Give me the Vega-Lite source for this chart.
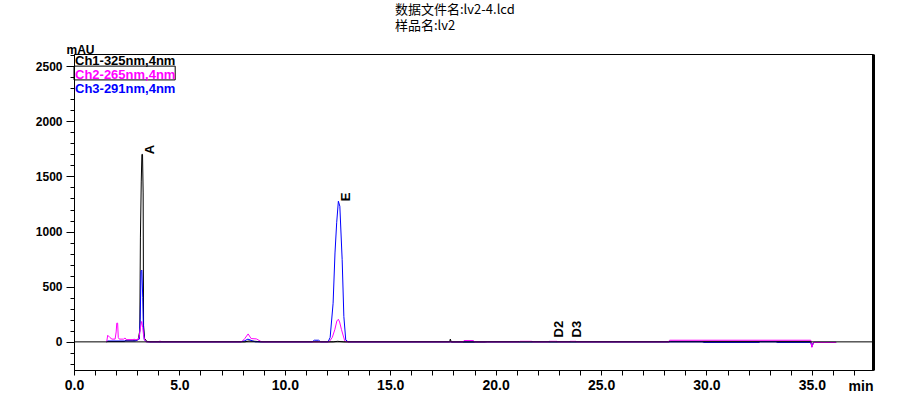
{
  "$schema": "https://vega.github.io/schema/vega-lite/v6.json",
  "width": 799,
  "height": 316,
  "autosize": {"type": "none"},
  "padding": {"left": 74, "top": 54, "right": 32, "bottom": 23},
  "background": "white",
  "config": {
    "view": {"stroke": "black", "strokeWidth": 1},
    "axis": {
      "grid": false,
      "domainColor": "black",
      "tickColor": "black",
      "labelColor": "black",
      "titleColor": "black",
      "labelOverlap": false,
      "labelFlush": false,
      "labelFont": "Liberation Sans Narrow, Liberation Sans, Arial",
      "labelFontWeight": "bold",
      "titleFont": "Liberation Sans Narrow, Liberation Sans, Arial",
      "titleFontWeight": "bold"
    }
  },
  "title": {
    "text": ["数据文件名:lv2-4.lcd", "样品名:lv2"],
    "anchor": "start",
    "frame": "group",
    "dx": 321,
    "offset": 10,
    "fontSize": 13,
    "font": "Noto Sans CJK SC",
    "fontWeight": "normal",
    "lineHeight": 16,
    "baseline": "top",
    "color": "black"
  },
  "layer": [
    {
      "data": {
        "values": [
          {"ch": "Ch1-325nm,4nm", "t": 1.55, "v": 0},
          {"ch": "Ch1-325nm,4nm", "t": 1.6, "v": 3},
          {"ch": "Ch1-325nm,4nm", "t": 2.4, "v": 3},
          {"ch": "Ch1-325nm,4nm", "t": 2.45, "v": 15},
          {"ch": "Ch1-325nm,4nm", "t": 3.0, "v": 15},
          {"ch": "Ch1-325nm,4nm", "t": 3.05, "v": 30},
          {"ch": "Ch1-325nm,4nm", "t": 3.12, "v": 100},
          {"ch": "Ch1-325nm,4nm", "t": 3.15, "v": 950},
          {"ch": "Ch1-325nm,4nm", "t": 3.19, "v": 1450},
          {"ch": "Ch1-325nm,4nm", "t": 3.22, "v": 1700},
          {"ch": "Ch1-325nm,4nm", "t": 3.25, "v": 1700},
          {"ch": "Ch1-325nm,4nm", "t": 3.28, "v": 1350},
          {"ch": "Ch1-325nm,4nm", "t": 3.3, "v": 150},
          {"ch": "Ch1-325nm,4nm", "t": 3.35, "v": 30},
          {"ch": "Ch1-325nm,4nm", "t": 3.45, "v": 5},
          {"ch": "Ch1-325nm,4nm", "t": 3.6, "v": 0},
          {"ch": "Ch1-325nm,4nm", "t": 8.1, "v": 0},
          {"ch": "Ch1-325nm,4nm", "t": 8.3, "v": 8},
          {"ch": "Ch1-325nm,4nm", "t": 8.6, "v": 5},
          {"ch": "Ch1-325nm,4nm", "t": 8.9, "v": 0},
          {"ch": "Ch1-325nm,4nm", "t": 12.3, "v": 0},
          {"ch": "Ch1-325nm,4nm", "t": 12.5, "v": 5},
          {"ch": "Ch1-325nm,4nm", "t": 12.8, "v": 0},
          {"ch": "Ch1-325nm,4nm", "t": 17.82, "v": 0},
          {"ch": "Ch1-325nm,4nm", "t": 17.85, "v": 25},
          {"ch": "Ch1-325nm,4nm", "t": 17.9, "v": -2},
          {"ch": "Ch1-325nm,4nm", "t": 19.5, "v": -2},
          {"ch": "Ch1-325nm,4nm", "t": 19.6, "v": 0},
          {"ch": "Ch1-325nm,4nm", "t": 28.2, "v": 0},
          {"ch": "Ch1-325nm,4nm", "t": 28.3, "v": 5},
          {"ch": "Ch1-325nm,4nm", "t": 34.95, "v": 5},
          {"ch": "Ch1-325nm,4nm", "t": 35.0, "v": -40},
          {"ch": "Ch1-325nm,4nm", "t": 35.05, "v": -20},
          {"ch": "Ch1-325nm,4nm", "t": 35.1, "v": -5},
          {"ch": "Ch1-325nm,4nm", "t": 36.15, "v": -5},

          {"ch": "Ch3-291nm,4nm", "t": 1.55, "v": 0},
          {"ch": "Ch3-291nm,4nm", "t": 1.6, "v": 8},
          {"ch": "Ch3-291nm,4nm", "t": 2.9, "v": 8},
          {"ch": "Ch3-291nm,4nm", "t": 3.1, "v": 25},
          {"ch": "Ch3-291nm,4nm", "t": 3.14, "v": 200},
          {"ch": "Ch3-291nm,4nm", "t": 3.18, "v": 640},
          {"ch": "Ch3-291nm,4nm", "t": 3.22, "v": 650},
          {"ch": "Ch3-291nm,4nm", "t": 3.26, "v": 400},
          {"ch": "Ch3-291nm,4nm", "t": 3.29, "v": 150},
          {"ch": "Ch3-291nm,4nm", "t": 3.33, "v": 20},
          {"ch": "Ch3-291nm,4nm", "t": 3.45, "v": 0},
          {"ch": "Ch3-291nm,4nm", "t": 7.9, "v": 0},
          {"ch": "Ch3-291nm,4nm", "t": 8.1, "v": 10},
          {"ch": "Ch3-291nm,4nm", "t": 8.25, "v": 25},
          {"ch": "Ch3-291nm,4nm", "t": 8.45, "v": 10},
          {"ch": "Ch3-291nm,4nm", "t": 8.6, "v": 0},
          {"ch": "Ch3-291nm,4nm", "t": 11.3, "v": 0},
          {"ch": "Ch3-291nm,4nm", "t": 11.4, "v": 15},
          {"ch": "Ch3-291nm,4nm", "t": 11.6, "v": 15},
          {"ch": "Ch3-291nm,4nm", "t": 11.7, "v": 0},
          {"ch": "Ch3-291nm,4nm", "t": 12.05, "v": 0},
          {"ch": "Ch3-291nm,4nm", "t": 12.15, "v": 40},
          {"ch": "Ch3-291nm,4nm", "t": 12.29, "v": 350},
          {"ch": "Ch3-291nm,4nm", "t": 12.38, "v": 806},
          {"ch": "Ch3-291nm,4nm", "t": 12.46, "v": 1080},
          {"ch": "Ch3-291nm,4nm", "t": 12.54, "v": 1275},
          {"ch": "Ch3-291nm,4nm", "t": 12.61, "v": 1230},
          {"ch": "Ch3-291nm,4nm", "t": 12.72, "v": 745},
          {"ch": "Ch3-291nm,4nm", "t": 12.8, "v": 230},
          {"ch": "Ch3-291nm,4nm", "t": 12.89, "v": 18},
          {"ch": "Ch3-291nm,4nm", "t": 13.0, "v": 0},
          {"ch": "Ch3-291nm,4nm", "t": 29.8, "v": 0},
          {"ch": "Ch3-291nm,4nm", "t": 29.85, "v": -5},
          {"ch": "Ch3-291nm,4nm", "t": 32.5, "v": -5},
          {"ch": "Ch3-291nm,4nm", "t": 32.55, "v": 0},
          {"ch": "Ch3-291nm,4nm", "t": 33.3, "v": 0},
          {"ch": "Ch3-291nm,4nm", "t": 33.35, "v": -5},
          {"ch": "Ch3-291nm,4nm", "t": 34.95, "v": -5},
          {"ch": "Ch3-291nm,4nm", "t": 35.0, "v": -45},
          {"ch": "Ch3-291nm,4nm", "t": 35.05, "v": -15},
          {"ch": "Ch3-291nm,4nm", "t": 35.1, "v": -5},
          {"ch": "Ch3-291nm,4nm", "t": 36.15, "v": -5},

          {"ch": "Ch2-265nm,4nm", "t": 1.55, "v": 0},
          {"ch": "Ch2-265nm,4nm", "t": 1.6, "v": 60},
          {"ch": "Ch2-265nm,4nm", "t": 1.7, "v": 40},
          {"ch": "Ch2-265nm,4nm", "t": 1.8, "v": 25},
          {"ch": "Ch2-265nm,4nm", "t": 1.95, "v": 25},
          {"ch": "Ch2-265nm,4nm", "t": 2.0, "v": 90},
          {"ch": "Ch2-265nm,4nm", "t": 2.03, "v": 170},
          {"ch": "Ch2-265nm,4nm", "t": 2.07, "v": 170},
          {"ch": "Ch2-265nm,4nm", "t": 2.1, "v": 40},
          {"ch": "Ch2-265nm,4nm", "t": 2.15, "v": 25},
          {"ch": "Ch2-265nm,4nm", "t": 2.35, "v": 25},
          {"ch": "Ch2-265nm,4nm", "t": 2.42, "v": 35},
          {"ch": "Ch2-265nm,4nm", "t": 2.5, "v": 20},
          {"ch": "Ch2-265nm,4nm", "t": 2.8, "v": 20},
          {"ch": "Ch2-265nm,4nm", "t": 2.85, "v": 25},
          {"ch": "Ch2-265nm,4nm", "t": 2.9, "v": 20},
          {"ch": "Ch2-265nm,4nm", "t": 3.05, "v": 20},
          {"ch": "Ch2-265nm,4nm", "t": 3.1, "v": 60},
          {"ch": "Ch2-265nm,4nm", "t": 3.17, "v": 150},
          {"ch": "Ch2-265nm,4nm", "t": 3.21, "v": 185},
          {"ch": "Ch2-265nm,4nm", "t": 3.26, "v": 130},
          {"ch": "Ch2-265nm,4nm", "t": 3.3, "v": 60},
          {"ch": "Ch2-265nm,4nm", "t": 3.35, "v": 15},
          {"ch": "Ch2-265nm,4nm", "t": 3.45, "v": 0},
          {"ch": "Ch2-265nm,4nm", "t": 4.05, "v": 0},
          {"ch": "Ch2-265nm,4nm", "t": 4.08, "v": 10},
          {"ch": "Ch2-265nm,4nm", "t": 4.1, "v": 0},
          {"ch": "Ch2-265nm,4nm", "t": 7.95, "v": 0},
          {"ch": "Ch2-265nm,4nm", "t": 8.1, "v": 30},
          {"ch": "Ch2-265nm,4nm", "t": 8.26, "v": 72},
          {"ch": "Ch2-265nm,4nm", "t": 8.4, "v": 30},
          {"ch": "Ch2-265nm,4nm", "t": 8.65, "v": 27},
          {"ch": "Ch2-265nm,4nm", "t": 8.9, "v": 0},
          {"ch": "Ch2-265nm,4nm", "t": 12.1, "v": 0},
          {"ch": "Ch2-265nm,4nm", "t": 12.25, "v": 40},
          {"ch": "Ch2-265nm,4nm", "t": 12.37, "v": 110},
          {"ch": "Ch2-265nm,4nm", "t": 12.47, "v": 190},
          {"ch": "Ch2-265nm,4nm", "t": 12.54, "v": 205},
          {"ch": "Ch2-265nm,4nm", "t": 12.6, "v": 180},
          {"ch": "Ch2-265nm,4nm", "t": 12.69, "v": 110},
          {"ch": "Ch2-265nm,4nm", "t": 12.84, "v": 10},
          {"ch": "Ch2-265nm,4nm", "t": 12.95, "v": 0},
          {"ch": "Ch2-265nm,4nm", "t": 18.45, "v": 0},
          {"ch": "Ch2-265nm,4nm", "t": 18.5, "v": 12},
          {"ch": "Ch2-265nm,4nm", "t": 18.95, "v": 12},
          {"ch": "Ch2-265nm,4nm", "t": 19.0, "v": 0},
          {"ch": "Ch2-265nm,4nm", "t": 21.1, "v": 0},
          {"ch": "Ch2-265nm,4nm", "t": 21.15, "v": 5},
          {"ch": "Ch2-265nm,4nm", "t": 21.7, "v": 5},
          {"ch": "Ch2-265nm,4nm", "t": 21.75, "v": 0},
          {"ch": "Ch2-265nm,4nm", "t": 22.5, "v": 0},
          {"ch": "Ch2-265nm,4nm", "t": 22.55, "v": 5},
          {"ch": "Ch2-265nm,4nm", "t": 22.9, "v": 5},
          {"ch": "Ch2-265nm,4nm", "t": 22.95, "v": 0},
          {"ch": "Ch2-265nm,4nm", "t": 23.5, "v": 0},
          {"ch": "Ch2-265nm,4nm", "t": 23.55, "v": 5},
          {"ch": "Ch2-265nm,4nm", "t": 23.8, "v": 5},
          {"ch": "Ch2-265nm,4nm", "t": 23.85, "v": 0},
          {"ch": "Ch2-265nm,4nm", "t": 28.2, "v": 0},
          {"ch": "Ch2-265nm,4nm", "t": 28.25, "v": 15},
          {"ch": "Ch2-265nm,4nm", "t": 34.95, "v": 15},
          {"ch": "Ch2-265nm,4nm", "t": 35.0, "v": -50},
          {"ch": "Ch2-265nm,4nm", "t": 35.05, "v": -20},
          {"ch": "Ch2-265nm,4nm", "t": 35.1, "v": -5},
          {"ch": "Ch2-265nm,4nm", "t": 36.15, "v": -5}
        ]
      },
      "mark": {"type": "line", "strokeWidth": 1, "interpolate": "linear"},
      "encoding": {
        "x": {
          "field": "t",
          "type": "quantitative",
          "scale": {"domain": [0, 37.9], "nice": false, "zero": false},
          "axis": {
            "values": [0, 5, 10, 15, 20, 25, 30, 35],
            "format": ".1f",
            "tickSize": 5,
            "labelPadding": 3,
            "labelFontSize": 14,
            "labelOverlap": false,
            "title": "min",
            "titleAnchor": "end",
            "titleAlign": "right",
            "titleX": 799,
            "titleY": 20,
            "titleBaseline": "alphabetic",
            "titleFontSize": 14
          }
        },
        "y": {
          "field": "v",
          "type": "quantitative",
          "scale": {"domain": [-255, 2610], "nice": false, "zero": false},
          "axis": {
            "values": [-200,-100,0,100,200,300,400,500,600,700,800,900,1000,1100,1200,1300,1400,1500,1600,1700,1800,1900,2000,2100,2200,2300,2400,2500,2600],
            "labelExpr": "datum.value % 500 === 0 ? datum.value + '' : ''",
            "tickSize": {"condition": {"test": "datum.value % 500 === 0", "value": 8}, "value": 4},
            "labelPadding": 4,
            "labelFontSize": 12,
            "labelOverlap": false,
            "title": "mAU",
            "titleAngle": 0,
            "titleAlign": "left",
            "titleX": -8,
            "titleY": -1,
            "titleBaseline": "alphabetic",
            "titleFontSize": 12
          }
        },
        "color": {
          "field": "ch",
          "type": "nominal",
          "scale": {
            "domain": ["Ch1-325nm,4nm", "Ch2-265nm,4nm", "Ch3-291nm,4nm"],
            "range": ["#000000", "#ff00ff", "#0000ff"]
          },
          "legend": {
            "title": null,
            "orient": "none",
            "legendX": -12,
            "legendY": 0,
            "padding": 0,
            "symbolSize": 0,
            "symbolStrokeWidth": 0,
            "symbolOpacity": 0,
            "symbolType": "stroke",
            "labelOffset": 0,
            "labelFont": "Liberation Sans Narrow, Liberation Sans, Arial",
            "labelFontSize": 13,
            "labelFontWeight": "bold",
            "rowPadding": 0,
            "encode": {
              "labels": {"update": {"fill": {"scale": "color", "field": "value"}}}
            }
          }
        }
      }
    },
    {
      "data": {"values": [{}]},
      "mark": {"type": "rule", "color": "black", "strokeWidth": 1},
      "encoding": {
        "y": {
          "datum": 0,
          "type": "quantitative",
          "axis": {"orient": "right", "labels": false, "ticks": false, "title": null, "domainWidth": 3}
        }
      }
    },
    {
      "data": {"values": [{}]},
      "mark": {"type": "rect", "fill": null, "fillOpacity": 0, "stroke": "black", "strokeWidth": 1},
      "encoding": {
        "x": {
          "datum": 0,
          "type": "quantitative",
          "axis": {
            "orient": "bottom",
            "values": [1,2,3,4,6,7,8,9,11,12,13,14,16,17,18,19,21,22,23,24,26,27,28,29,31,32,33,34,36,37],
            "labels": false,
            "domain": false,
            "tickSize": 5,
            "title": null
          }
        },
        "x2": {"datum": 4.8},
        "y": {"datum": 2500, "type": "quantitative", "axis": null},
        "y2": {"datum": 2375}
      }
    },
    {
      "data": {
        "values": [
          {"name": "A", "t": 3.23, "v": 1700},
          {"name": "E", "t": 12.54, "v": 1275},
          {"name": "D2", "t": 22.62, "v": 40},
          {"name": "D3", "t": 23.47, "v": 40}
        ]
      },
      "mark": {
        "type": "text",
        "angle": 270,
        "align": "left",
        "baseline": "top",
        "xOffset": 2,
        "font": "Liberation Sans Narrow, Liberation Sans, Arial",
        "fontSize": 13,
        "fontWeight": "bold",
        "color": "black"
      },
      "encoding": {
        "x": {"field": "t", "type": "quantitative", "axis": null},
        "y": {"field": "v", "type": "quantitative", "axis": null},
        "text": {"field": "name"}
      }
    }
  ],
  "resolve": {"axis": {"y": "independent", "x": "independent"}}
}
